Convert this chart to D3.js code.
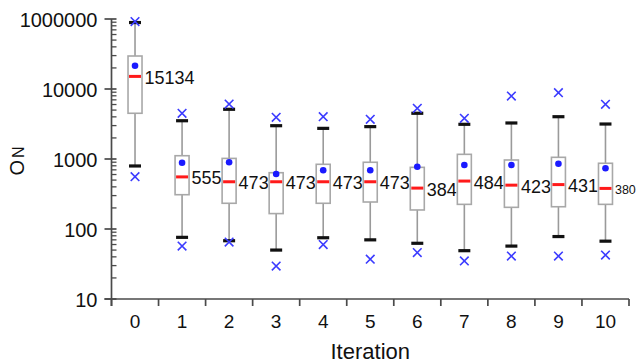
<!DOCTYPE html>
<html>
<head>
<meta charset="utf-8">
<script src="https://cdn.jsdelivr.net/npm/d3@7"></script>
<style>
  html, body { margin: 0; padding: 0; background: #fff; }
  svg { display: block; font-family: "Liberation Sans", Arial, Helvetica, sans-serif; }
</style>
</head>
<body>
<svg id="chart" width="640" height="363"></svg>
<script>
// Iterations on the x axis
const iterations = [0, 1, 2, 3, 4, 5, 6, 7, 8, 9, 10];

// Box-plot statistics per iteration
const maxima        = [92000, 4500, 6100, 3940, 4020, 3690, 5300, 3810, 7940, 8850, 6040];
const upperWhiskers = [89000, 3520, 5130, 2990, 2740, 2900, 4500, 3130, 3270, 4020, 3160];
const q3Values      = [29600, 1114, 1020, 637, 840, 898, 760, 1166, 968, 1057, 869];
const means         = [21500, 885, 898, 611, 690, 690, 776, 820, 820, 857, 736];
const medians       = [15134, 555, 473, 473, 473, 473, 384, 484, 423, 431, 380];
const q1Values      = [4500, 309, 233, 166, 233, 243, 187, 225, 204, 208, 225];
const lowerWhiskers = [795, 76, 68, 50, 75, 70, 62.5, 49, 57, 78, 67];
const minima        = [559, 57, 65, 29.6, 60, 37, 46, 35, 41, 41, 42.5];

// Major y ticks and the text printed at them
const majorTicks = [10, 100, 1000, 10000, 100000];
const tickLabels = ["10", "100", "1000", "10000", "1000000"];

const W = 640;
const svg = d3.select("#chart");
const plot = { left: 111.5, right: 629, top: 19, bottom: 299 };
const axisColor = "#4a4a4a";

const x = d3.scaleBand().domain(iterations).range([plot.left, plot.right]).padding(0);
const y = d3.scaleLog().domain([10, 100000]).range([plot.bottom, plot.top]);

// ---- y axis ----
const minorTicks = [];
majorTicks.slice(0, -1).forEach(m => {
  for (let k = 2; k <= 9; k++) minorTicks.push(m * k);
});

const yAxis = svg.append("g");
yAxis.append("line")
  .attr("x1", plot.left).attr("x2", plot.left)
  .attr("y1", plot.top).attr("y2", plot.bottom + 7)
  .attr("stroke", axisColor).attr("stroke-width", 1.7);
yAxis.selectAll("line.major").data(majorTicks).join("line")
  .attr("class", "major")
  .attr("x1", plot.left - 7).attr("x2", plot.left + 5)
  .attr("y1", d => y(d)).attr("y2", d => y(d))
  .attr("stroke", axisColor).attr("stroke-width", 1.7);
yAxis.selectAll("line.minor").data(minorTicks).join("line")
  .attr("class", "minor")
  .attr("x1", plot.left).attr("x2", plot.left + 5)
  .attr("y1", d => y(d)).attr("y2", d => y(d))
  .attr("stroke", axisColor).attr("stroke-width", 1.3);
yAxis.selectAll("text").data(majorTicks).join("text")
  .attr("x", plot.left - 14)
  .attr("y", d => y(d) + 1)
  .attr("text-anchor", "end")
  .attr("dominant-baseline", "central")
  .attr("font-size", 20)
  .attr("fill", "#111")
  .text((d, i) => tickLabels[i]);

// ---- x axis ----
const xAxis = svg.append("g");
xAxis.append("line")
  .attr("x1", plot.left - 7).attr("x2", plot.right)
  .attr("y1", plot.bottom).attr("y2", plot.bottom)
  .attr("stroke", axisColor).attr("stroke-width", 1.7);
const boundaries = iterations.map(d => x(d)).concat([x.range()[1]]);
xAxis.selectAll("line.tick").data(boundaries).join("line")
  .attr("class", "tick")
  .attr("x1", d => d).attr("x2", d => d)
  .attr("y1", plot.bottom).attr("y2", plot.bottom + 7)
  .attr("stroke", axisColor).attr("stroke-width", 1.7);
xAxis.selectAll("text").data(iterations).join("text")
  .attr("x", d => x(d) + x.bandwidth() / 2)
  .attr("y", 328)
  .attr("text-anchor", "middle")
  .attr("font-size", 19)
  .attr("fill", "#111")
  .text(d => d);

// Axis titles
svg.append("text")
  .attr("x", (plot.left + plot.right) / 2)
  .attr("y", 359)
  .attr("text-anchor", "middle")
  .attr("font-size", 22)
  .attr("fill", "#111")
  .text("Iteration");

const yTitle = svg.append("text")
  .attr("transform", `translate(23.5, ${(plot.top + plot.bottom) / 2 + 2}) rotate(-90)`)
  .attr("text-anchor", "middle")
  .attr("fill", "#111");
yTitle.append("tspan").attr("font-size", 20).text("O");
yTitle.append("tspan").attr("font-size", 16).attr("dx", 2).text("N");

// ---- boxes ----
const rows = iterations.map((it, i) => ({
  it, max: maxima[i], hi: upperWhiskers[i], q3: q3Values[i], mean: means[i],
  med: medians[i], q1: q1Values[i], lo: lowerWhiskers[i], min: minima[i]
}));

const boxW = 14, capW = 12, xSize = 4.3;
const cx = d => x(d.it) + x.bandwidth() / 2;

const g = svg.append("g").selectAll("g").data(rows).join("g");

// whisker stem
g.append("line")
  .attr("x1", cx).attr("x2", cx)
  .attr("y1", d => y(d.hi)).attr("y2", d => y(d.lo))
  .attr("stroke", "#9a9a9a").attr("stroke-width", 1.6);

// interquartile box
g.append("rect")
  .attr("x", d => cx(d) - boxW / 2)
  .attr("y", d => y(d.q3))
  .attr("width", boxW)
  .attr("height", d => y(d.q1) - y(d.q3))
  .attr("fill", "#fff")
  .attr("stroke", "#a8a8a8").attr("stroke-width", 1.6);

// whisker caps
["hi", "lo"].forEach(k => {
  g.append("line")
    .attr("x1", d => cx(d) - capW / 2).attr("x2", d => cx(d) + capW / 2)
    .attr("y1", d => y(d[k])).attr("y2", d => y(d[k]))
    .attr("stroke", "#111").attr("stroke-width", 3.2);
});

// median
g.append("line")
  .attr("x1", d => cx(d) - boxW / 2 + 1).attr("x2", d => cx(d) + boxW / 2 - 1)
  .attr("y1", d => y(d.med)).attr("y2", d => y(d.med))
  .attr("stroke", "#ff1a1a").attr("stroke-width", 3);

// mean
g.append("circle")
  .attr("cx", cx).attr("cy", d => y(d.mean))
  .attr("r", 3.3)
  .attr("fill", "#1a1aff");

// extreme values as crosses
["max", "min"].forEach(k => {
  g.append("path")
    .attr("d", d => {
      const px = cx(d), py = y(d[k]);
      return `M${px - xSize},${py - xSize}L${px + xSize},${py + xSize}` +
             `M${px - xSize},${py + xSize}L${px + xSize},${py - xSize}`;
    })
    .attr("stroke", "#3b3bff").attr("stroke-width", 1.6).attr("fill", "none");
});

// median value labels; a label running past the right edge gets a smaller font
const labelSize = 18;
g.append("text")
  .attr("x", d => cx(d) + 9.5)
  .attr("y", d => y(d.med) + 1.5)
  .attr("dominant-baseline", "central")
  .attr("font-size", labelSize)
  .attr("fill", "#111")
  .text(d => d.med)
  .each(function () {
    const bb = this.getBBox();
    const room = W - 4 - bb.x;
    if (bb.width > room) {
      d3.select(this).attr("font-size", Math.floor(labelSize * room / bb.width * 10) / 10);
    }
  });
</script>
</body>
</html>
